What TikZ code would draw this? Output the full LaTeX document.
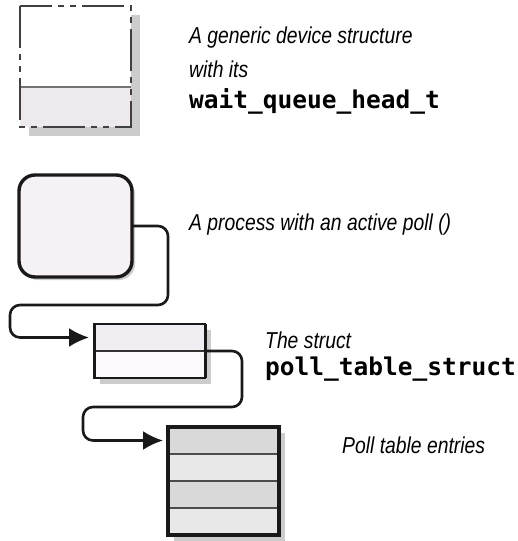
\documentclass[tikz,border=0pt]{standalone}
\usepackage{fontspec}
\setmainfont{Liberation Sans}
\newfontfamily\condit[FakeStretch=0.84]{Liberation Sans}
\newfontfamily\codefont{DejaVu Sans Mono}
\usetikzlibrary{arrows.meta}
\usetikzlibrary{calc,positioning}
\usetikzlibrary{shadows}

\definecolor{devpink}{HTML}{EEE9ED}
\definecolor{procpink}{HTML}{F5F1F5}
\definecolor{sttop}{HTML}{F1EEF3}
\definecolor{stbot}{HTML}{FCF9FC}
\definecolor{rowdark}{HTML}{D9D9D9}
\definecolor{rowlight}{HTML}{E8E8E8}

\tikzset{
  boxshadow/.style={drop shadow={shadow xshift=#1,shadow yshift=-#1,fill=black!20,opacity=1}},
  plainbox/.style={inner sep=0pt,outer sep=0pt},
  link/.style={draw=black!90,line width=2.6pt,rounded corners=10pt},
  note/.style={anchor=base west,inner sep=0pt,font=\condit\itshape\fontsize{23}{23}\selectfont},
  code/.style={anchor=base west,inner sep=0pt,font=\codefont\bfseries\fontsize{24.5}{24.5}\selectfont}
}

\begin{document}
\begin{tikzpicture}[x=1pt,y=-1pt]
  \useasboundingbox (0,0) rectangle (518,541);

  % generic device structure
  \node[plainbox,fill=white,boxshadow=9pt,minimum width=111pt,minimum height=121pt] (dev) at (75.5,66.5) {};
  \fill[devpink] (dev.south west) rectangle ($(dev.south east)+(0,-40)$);
  \draw[black!55,line width=1.2pt] ($(dev.south west)+(0,-40)$) -- ($(dev.south east)+(0,-40)$);
  \draw[black!75,line width=2.2pt,dash pattern=on 42pt off 6pt on 6pt off 6pt on 6pt off 6pt]
    (dev.north west) rectangle (dev.south east);

  % process
  \node[plainbox,draw=black!90,line width=3.4pt,rounded corners=16pt,fill=procpink,boxshadow=3pt,
        minimum width=113pt,minimum height=102pt] (proc) at (75.5,226) {};

  % poll_table_struct
  \node[plainbox,fill=stbot,boxshadow=6pt,minimum width=111pt,minimum height=54pt] (st) at (149.5,351) {};
  \fill[sttop] (st.north west) rectangle (st.east);
  \draw[black!80,line width=1.5pt] (st.west) -- (st.east);
  \draw[black!90,line width=2pt] (st.north west) rectangle (st.south east);
  \draw[black!90,line width=3pt] (st.north west) -- (st.south west) (st.north east) -- (st.south east);
  \coordinate (st-in) at ($(st.north west)!.5!(st.west)$);

  % poll table entries
  \node[plainbox,fill=rowlight,boxshadow=6pt,minimum width=111pt,minimum height=108pt] (tab) at (223.5,481) {};
  \foreach \r in {0,2}
    \fill[rowdark] ($(tab.north west)+(0,27*\r)$) rectangle ($(tab.north east)+(0,27*\r+27)$);
  \foreach \r in {1,2,3}
    \draw[black!70,line width=1.5pt] ($(tab.north west)+(0,27*\r)$) -- ($(tab.north east)+(0,27*\r)$);
  \draw[black!90,line width=3.2pt] (tab.north west) rectangle (tab.south east);
  \coordinate (tab-in) at ($(tab.north west)!.125!(tab.south west)$);

  % connectors
  \draw[link,-{Latex[length=20pt,width=19pt]},shorten >=5pt]
    (proc.east) -- ++(36,0) -- ++(0,79) -- ++(-158,0) |- (st-in);
  \draw[link,-{Latex[length=20pt,width=19pt]},shorten >=5pt]
    (st.east) -- ++(37,0) -- ++(0,56) -- ++(-159,0) |- (tab-in);

  % labels
  \node[note] (devtxt) at (189,43) {A generic device structure};
  \node[note] (devtxt2) at (189,77) {with its};
  \node[code] (wqh) at (189,108) {wait\_queue\_head\_t};
  \node[note] (proctxt) at (189,230) {A process with an active poll ()};
  \node[note] (sttxt) at (265,348) {The struct};
  \node[code] (pts) at (265,375) {poll\_table\_struct};
  \node[note] (tabtxt) at (342,453) {Poll table entries};
\end{tikzpicture}
\end{document}
